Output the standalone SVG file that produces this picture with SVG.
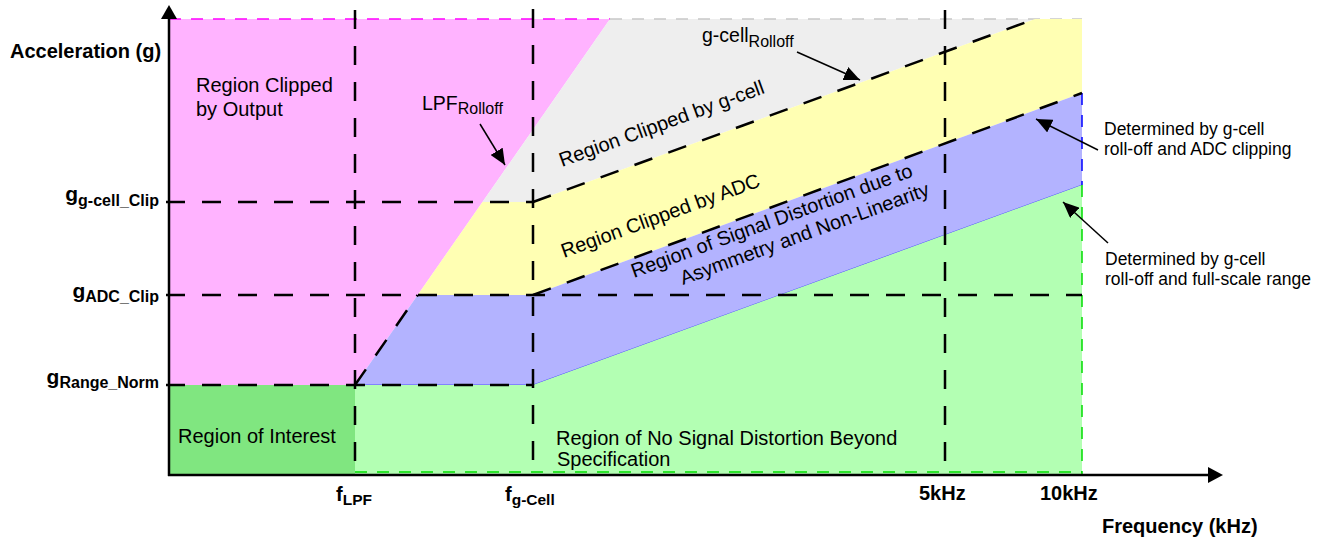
<svg xmlns="http://www.w3.org/2000/svg" width="1325" height="540" viewBox="0 0 1325 540">
<defs>
<style>
text{font-family:"Liberation Sans",Arial,sans-serif;fill:#000}
.b{font-weight:bold}
.reg{font-size:20px}
.ann{font-size:17.5px}
.ax{font-size:20px;font-weight:bold}
.dash{stroke:#000;stroke-width:2.5;stroke-dasharray:19 17;fill:none}
.axis{stroke:#000;stroke-width:2.5;fill:none}
.ptr{stroke:#000;stroke-width:1.5;fill:none;marker-end:url(#ah)}
</style>
<marker id="ah" markerUnits="userSpaceOnUse" markerWidth="18" markerHeight="14" refX="16" refY="7" orient="auto">
<path d="M0,0 L16,7 L0,14 Z" fill="#000"/>
</marker>
</defs>
<rect width="1325" height="540" fill="#fff"/>

<g id="region-clipped-output">
<polygon points="169,19 610,19 355,385 169,385" fill="#FFB3FF"/>
<line x1="169" y1="19" x2="610" y2="19" stroke="#FF00FF" stroke-width="1.5" stroke-dasharray="12 10"/>
<line x1="169" y1="19" x2="169" y2="385" stroke="#FF00FF" stroke-width="2" stroke-dasharray="12 10"/>
<text class="reg" x="196" y="92">Region Clipped</text>
<text class="reg" x="196" y="116">by Output</text>
</g>

<g id="region-clipped-gcell">
<polygon points="610,19 1035,19 533,202 482.5,202" fill="#EEEEEE"/>
<line x1="610" y1="19" x2="1082" y2="19" stroke="#C8C8C8" stroke-width="1.5" stroke-dasharray="12 10"/>
<text class="reg" transform="translate(562,167) rotate(-20)">Region Clipped by g-cell</text>
</g>

<g id="region-clipped-adc">
<polygon points="482.5,202 533,202 1035,19 1082,19 1082,93 533,295 417.7,295" fill="#FFFFB3"/>
<text class="reg" transform="translate(564,258) rotate(-20)">Region Clipped by ADC</text>
</g>

<g id="region-distortion">
<polygon points="355,385 417.7,295 533,295 1082,93 1082,185 533,385" fill="#B3B3FF"/>
<polyline points="355,385 533,385 1082,185" fill="none" stroke="#5050FF" stroke-width="1"/>
<line x1="1082" y1="93" x2="1082" y2="185" stroke="#0000FF" stroke-width="1.5" stroke-dasharray="12 10"/>
<text class="reg" transform="translate(634,278) rotate(-20)">Region of Signal Distortion due to</text>
<text class="reg" transform="translate(683,285) rotate(-20)">Asymmetry and Non-Linearity</text>
</g>

<g id="region-no-distortion">
<polygon points="355,385 533,385 1082,185 1082,474 355,474" fill="#B3FFB3"/>
<line x1="355" y1="472" x2="1082" y2="472" stroke="#00DD00" stroke-width="1.5" stroke-dasharray="12 10"/>
<line x1="1082" y1="185" x2="1082" y2="474" stroke="#00DD00" stroke-width="1.5" stroke-dasharray="12 10"/>
<text class="reg" x="556" y="445">Region of No Signal Distortion Beyond</text>
<text class="reg" x="557" y="466">Specification</text>
</g>

<g id="region-interest">
<rect x="169" y="385" width="186" height="89" fill="#80E680"/>
<text class="reg" x="178" y="443">Region of Interest</text>
</g>

<g id="connectors">
<line class="dash" x1="355" y1="10" x2="355" y2="474"/>
<line class="dash" x1="533" y1="9" x2="533" y2="474"/>
<line class="dash" x1="945" y1="10" x2="945" y2="474"/>
<line class="dash" x1="166" y1="202" x2="533" y2="202"/>
<line class="dash" x1="166" y1="295" x2="1082" y2="295"/>
<line class="dash" x1="166" y1="385" x2="533" y2="385"/>
<line class="dash" x1="355" y1="385" x2="417.7" y2="295"/>
<line class="dash" x1="533" y1="202" x2="1035" y2="19"/>
<line class="dash" x1="533" y1="295" x2="1082" y2="93"/>
<line class="ptr" x1="480" y1="124" x2="505" y2="165"/>
<line class="ptr" x1="797" y1="52" x2="860" y2="80"/>
<line class="ptr" x1="1098" y1="150" x2="1036" y2="119"/>
<line class="ptr" x1="1108" y1="243" x2="1063" y2="202"/>
</g>

<g id="axes">
<line class="axis" x1="169" y1="476" x2="169" y2="17"/>
<polygon points="161,19 169,5 177,19" fill="#000"/>
<line class="axis" x1="168" y1="475" x2="1210" y2="475"/>
<polygon points="1208,467 1223,475 1208,483" fill="#000"/>
</g>

<g id="labels">
<text class="ax" x="10" y="58">Acceleration (g)</text>
<text class="b" x="159" y="201" text-anchor="end"><tspan font-size="21">g</tspan><tspan font-size="16" dy="5">g-cell_Clip</tspan></text>
<text class="b" x="159" y="298" text-anchor="end"><tspan font-size="21">g</tspan><tspan font-size="16" dy="4">ADC_Clip</tspan></text>
<text class="b" x="159" y="384" text-anchor="end"><tspan font-size="21">g</tspan><tspan font-size="16" dy="4">Range_Norm</tspan></text>
<text class="b" x="336" y="501"><tspan font-size="20">f</tspan><tspan font-size="15.5" dy="4">LPF</tspan></text>
<text class="b" x="505" y="501"><tspan font-size="20">f</tspan><tspan font-size="15.5" dy="4">g-Cell</tspan></text>
<text class="ax" x="919" y="500">5kHz</text>
<text class="ax" x="1040" y="500">10kHz</text>
<text class="ax" x="1102" y="533">Frequency (kHz)</text>
<text x="422" y="110"><tspan font-size="19.5">LPF</tspan><tspan font-size="16" dy="4">Rolloff</tspan></text>
<text x="702" y="42"><tspan font-size="19.5">g-cell</tspan><tspan font-size="16" dy="5">Rolloff</tspan></text>
<text class="ann" x="1104" y="135">Determined by g-cell</text>
<text class="ann" x="1104" y="155">roll-off and ADC clipping</text>
<text class="ann" x="1105" y="265">Determined by g-cell</text>
<text class="ann" x="1105" y="285">roll-off and full-scale range</text>
</g>
</svg>
